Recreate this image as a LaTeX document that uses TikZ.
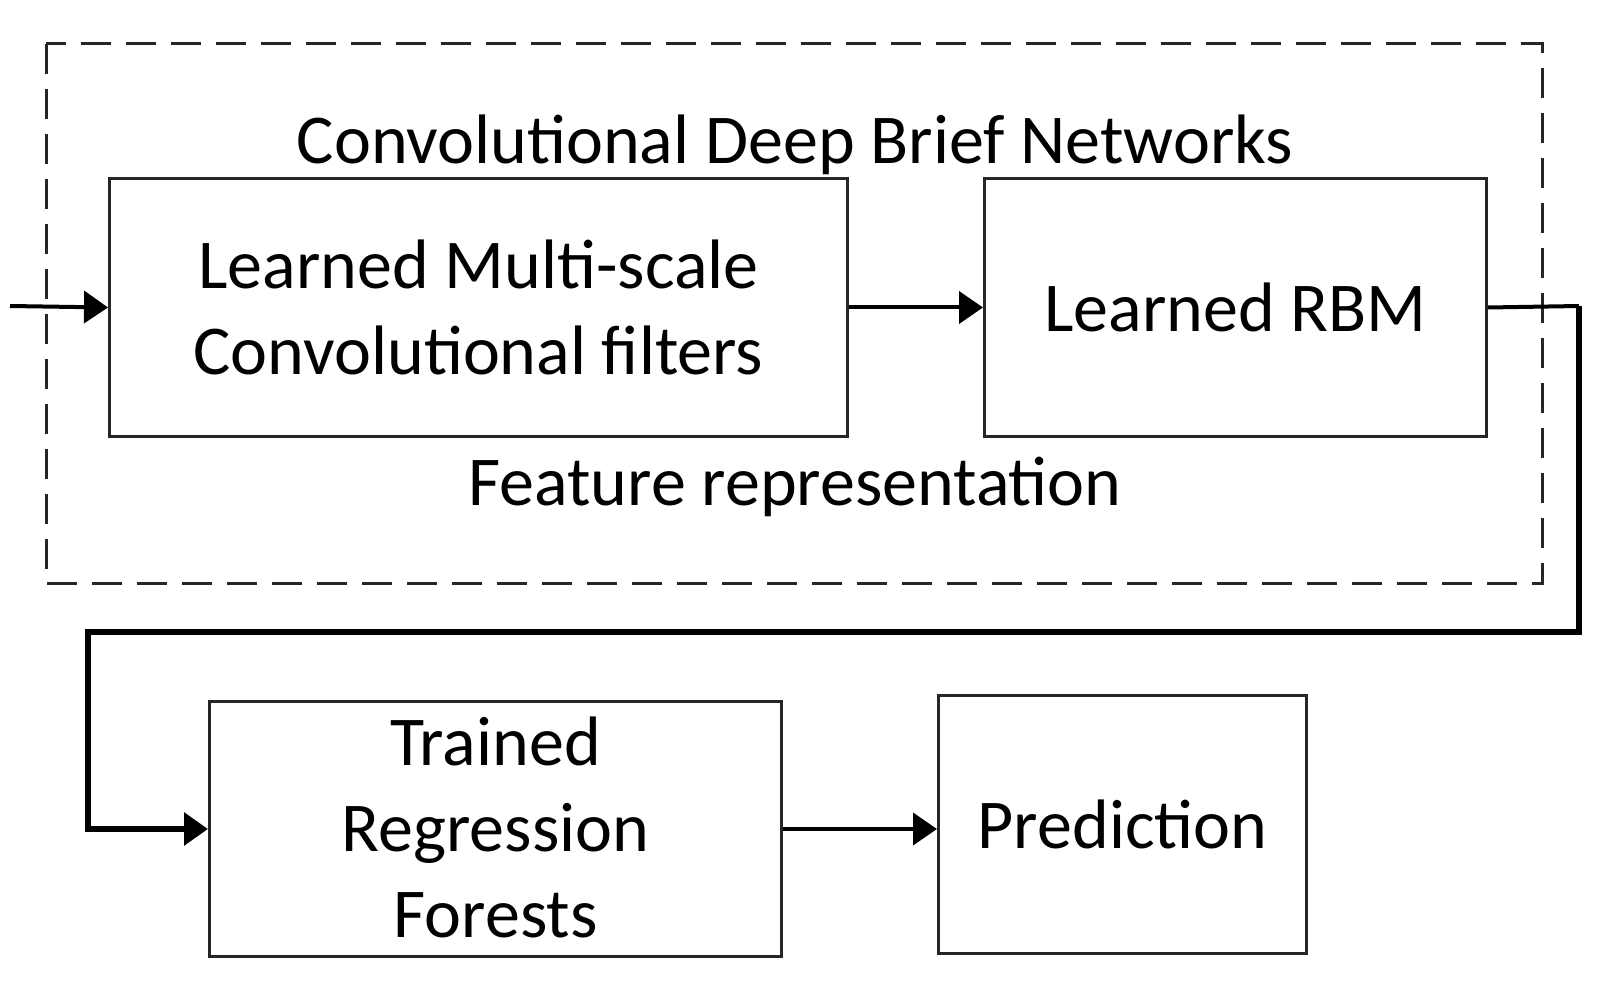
\documentclass[tikz,border=0pt]{standalone}
\usepackage{fontspec}
\setmainfont{Carlito}
\usetikzlibrary{arrows.meta}
\begin{document}
\begin{tikzpicture}[x=1pt,y=-1pt,
  boxstyle/.style={draw=black!85,line width=3pt,inner sep=0pt,anchor=north west},
  lbl/.style={font=\fontsize{70}{86}\selectfont,align=center,text=black},
  arr/.style={line width=4pt,-{Triangle[length=24pt,width=32pt]}},
  thickline/.style={line width=6pt}]
\useasboundingbox (0,0) rectangle (1618,1008);
% dashed group
\draw[line width=3pt,black!85,dash pattern=on 30pt off 15pt] (46,44) rectangle (1542,583);
% boxes
\node[boxstyle,minimum width=738pt,minimum height=258pt] (b1) at (108,177) {};
\node[boxstyle,minimum width=502pt,minimum height=258pt] (b2) at (983,177) {};
\node[boxstyle,minimum width=572pt,minimum height=255pt] (b3) at (208,700) {};
\node[boxstyle,minimum width=368pt,minimum height=258pt] (b4) at (937,694) {};
% texts
\node[lbl] (t1) at (b1.center) {Learned Multi-scale\\Convolutional filters};
\node[lbl] (t2) at (b2.center) {Learned RBM};
\node[lbl] (t3) at ([yshift=2pt]b3.center) {Trained\\Regression\\Forests};
\node[lbl] (t4) at (b4.center) {Prediction};
\node[lbl] (title) at (795,145) {Convolutional Deep Brief Networks};
\node[lbl] (feat) at (795,487) {Feature representation};
% connectors
\coordinate (in) at (10,306);
\coordinate (c1) at (1579,632);
\coordinate (c2) at (88,632);
\draw[arr] (in) -- (b1.west);
\draw[arr] (b1.east) -- (b2.west);
\draw[line width=4pt] (b2.east) -- (1579,306);
\draw[thickline] (1579,306) -- (c1) -- (c2) |- ([xshift=-24pt]b3.west);
\draw[arr,line width=6pt] ([xshift=-26pt]b3.west) -- (b3.west);
\draw[arr] (b3.east) -- (b3.east -| b4.west);
\end{tikzpicture}
\end{document}
